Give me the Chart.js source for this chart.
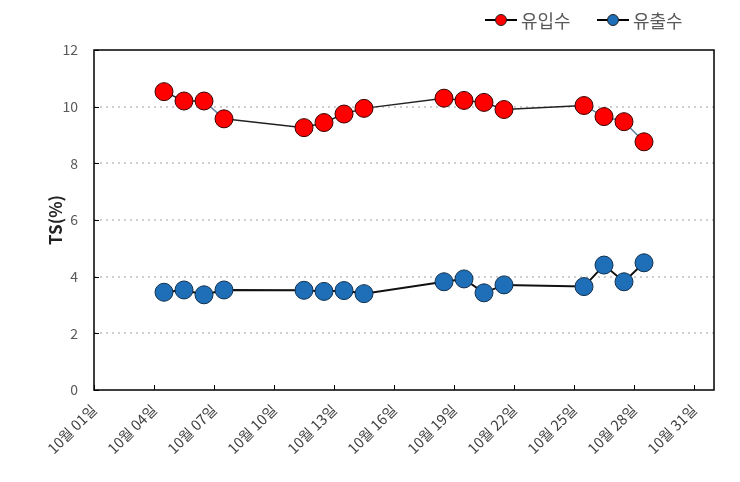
<!DOCTYPE html>
<html>
<head>
<meta charset="utf-8">
<script src="https://cdn.jsdelivr.net/npm/chart.js@4"></script>
<style>
  html, body { margin: 0; padding: 0; background: #fff; }
  #wrap { width: 740px; height: 482px; }
</style>
</head>
<body>
<div id="wrap"><canvas id="grafikTS" width="740" height="482"></canvas></div>
<script>
    // 날짜 (10월, 일) 와 TS 값
    const hari = [4, 5, 6, 7, 11, 12, 13, 14, 18, 19, 20, 21, 25, 26, 27, 28];
    const inflow = [10.53, 10.2, 10.2, 9.57, 9.26, 9.44, 9.74, 9.94, 10.3, 10.22, 10.15, 9.9, 10.04, 9.65, 9.47, 8.76];
    const outflow = [3.45, 3.53, 3.36, 3.53, 3.52, 3.48, 3.51, 3.4, 3.82, 3.92, 3.43, 3.71, 3.65, 4.41, 3.82, 4.49];
    const tickHari = [1, 4, 7, 10, 13, 16, 19, 22, 25, 28, 31];
    const tickTS = [0, 2, 4, 6, 8, 10, 12];
    const seriesNames = ['유입수', '유출수'];

    const fontKR = "'Noto Sans CJK KR', 'Noto Sans', sans-serif";

    // Excel 날짜축처럼 하루 칸의 가운데에 점을 찍음
    const toPoints = (vals) => vals.map((v, i) => ({ x: hari[i] + 0.5, y: v }));

    const boxPlugin = {
        id: 'boxPlugin',
        afterDatasetsDraw(chart) {
            const { ctx, chartArea: a, scales } = chart;
            ctx.save();
            ctx.strokeStyle = '#000';
            ctx.lineWidth = 1.5;
            ctx.strokeRect(a.left, a.top, a.right - a.left, a.bottom - a.top);
            ctx.lineWidth = 1;
            ctx.beginPath();
            tickHari.forEach(v => {
                const x = Math.round(scales.x.getPixelForValue(v)) + 0.5;
                ctx.moveTo(x, a.bottom);
                ctx.lineTo(x, a.bottom - 5);
            });
            tickTS.forEach(v => {
                const y = Math.round(scales.y.getPixelForValue(v)) + 0.5;
                ctx.moveTo(a.left, y);
                ctx.lineTo(a.left + 5, y);
            });
            ctx.stroke();
            ctx.restore();
        },
        afterDraw(chart) {
            // 범례
            const { ctx } = chart;
            const items = [
                { x: 485, fill: '#ff0000', text: seriesNames[0] },
                { x: 597, fill: '#1f6fb8', text: seriesNames[1] }
            ];
            ctx.save();
            items.forEach(it => {
                const y = 20;
                ctx.strokeStyle = '#000';
                ctx.lineWidth = 2;
                ctx.beginPath();
                ctx.moveTo(it.x, y);
                ctx.lineTo(it.x + 32, y);
                ctx.stroke();
                ctx.beginPath();
                ctx.arc(it.x + 16, y, 5.5, 0, Math.PI * 2);
                ctx.fillStyle = it.fill;
                ctx.fill();
                ctx.lineWidth = 1;
                ctx.strokeStyle = '#222';
                ctx.stroke();
                ctx.fillStyle = '#595959';
                ctx.font = '18px ' + fontKR;
                ctx.textBaseline = 'middle';
                ctx.fillText(it.text, it.x + 36, y + 1);
            });
            ctx.restore();
        }
    };

    const ctx = document.getElementById('grafikTS').getContext('2d');
    const myChart = new Chart(ctx, {
        type: 'line',
        data: {
            datasets: [{
                label: seriesNames[0],
                data: toPoints(inflow),
                borderColor: '#222',
                borderWidth: 1.5,
                backgroundColor: '#ff0000',
                pointBackgroundColor: '#ff0000',
                pointBorderColor: '#3a0000',
                pointBorderWidth: 1,
                pointRadius: 9,
                segment: {
                    borderColor: c => (c.p0DataIndex === 2 || c.p0DataIndex >= 12) ? '#5f7f9c' : '#222'
                }
            }, {
                label: seriesNames[1],
                data: toPoints(outflow),
                borderColor: '#111',
                borderWidth: 2,
                backgroundColor: '#1f6fb8',
                pointBackgroundColor: '#1f6fb8',
                pointBorderColor: '#10304f',
                pointBorderWidth: 1,
                pointRadius: 9
            }]
        },
        options: {
            responsive: false,
            animation: false,
            layout: { padding: { top: 50, right: 26, left: 45, bottom: 0 } },
            plugins: {
                legend: { display: false },
                tooltip: { enabled: false }
            },
            scales: {
                x: {
                    type: 'linear',
                    min: 1,
                    max: 32,
                    afterBuildTicks: s => { s.ticks = tickHari.map(v => ({ value: v })); },
                    afterFit: s => { s.height = 92; },
                    grid: { display: false },
                    border: { display: false },
                    ticks: {
                        autoSkip: false,
                        maxRotation: 45,
                        minRotation: 45,
                        padding: 3,
                        color: '#404040',
                        font: { size: 14.5, family: fontKR },
                        callback: v => '10월 ' + String(v).padStart(2, '0') + '일'
                    }
                },
                y: {
                    min: 0,
                    max: 12,
                    afterBuildTicks: s => { s.ticks = tickTS.map(v => ({ value: v })); },
                    afterFit: s => { s.width = 49; },
                    grid: {
                        color: c => (c.tick && (c.tick.value === 0 || c.tick.value === 12)) ? 'rgba(0,0,0,0)' : '#cfcfcf',
                        lineWidth: 2,
                        drawTicks: false
                    },
                    border: { display: false, dash: [2, 4] },
                    ticks: {
                        padding: 16,
                        color: '#595959',
                        font: { size: 14, family: fontKR }
                    },
                    title: {
                        display: true,
                        text: 'TS(%)',
                        color: '#222',
                        padding: { bottom: 0, top: 0 },
                        font: { size: 17, weight: 'bold', family: fontKR }
                    }
                }
            }
        },
        plugins: [boxPlugin]
    });
</script>
</body>
</html>
